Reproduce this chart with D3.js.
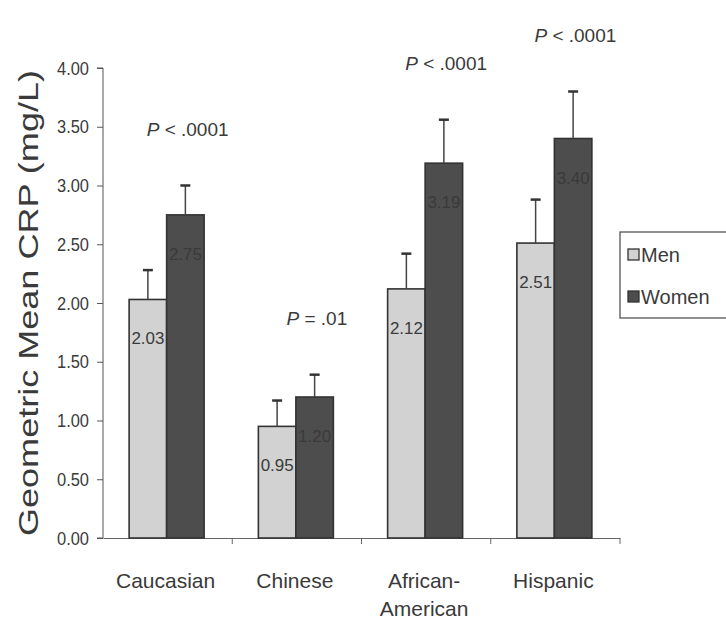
<!DOCTYPE html>
<html><head><meta charset="utf-8">
<script src="https://cdn.jsdelivr.net/npm/d3@7"></script>
<style>
body{margin:0;background:#fff;}
svg{display:block;}
text{font-family:"Liberation Sans",Arial,sans-serif;fill:#3a3a3a;}
</style></head>
<body>
<script>
const categories = ["Caucasian", "Chinese", "African-American", "Hispanic"];
const categoryLines = [["Caucasian"], ["Chinese"], ["African-", "American"], ["Hispanic"]];
const seriesNames = ["Men", "Women"];
const men = [2.03, 0.95, 2.12, 2.51];
const women = [2.75, 1.20, 3.19, 3.40];
const menUpper = [2.28, 1.17, 2.42, 2.88];
const womenUpper = [3.00, 1.39, 3.56, 3.80];
const pOps = ["<", "=", "<", "<"];
const pValues = [".0001", ".01", ".0001", ".0001"];
const yTicks = [0, 0.5, 1, 1.5, 2, 2.5, 3, 3.5, 4];

const W = 726, H = 626;
const m = {left:103, right:106, top:68, bottom:88};
const svg = d3.select("body").append("svg").attr("width", W).attr("height", H);

const x = d3.scaleBand().domain(categories).range([m.left, W - m.right]).paddingInner(0).paddingOuter(0);
const y = d3.scaleLinear().domain([0, 4]).range([H - m.bottom, m.top]);
const barW = 37.5;
const xs = d3.scaleBand().domain(seriesNames).range([0, barW*2]);
const colors = {Men:"#d2d2d2", Women:"#4d4d4d"};

const rows = categories.map((c,i)=>({c, i, vals:[
  {s:"Men", v:men[i], up:menUpper[i]},
  {s:"Women", v:women[i], up:womenUpper[i]}]}));

// y axis
const yAxis = svg.append("g").attr("transform",`translate(${m.left},0)`)
  .call(d3.axisLeft(y).tickValues(yTicks).tickFormat(d3.format(".2f")).tickSize(6).tickPadding(8));
yAxis.select(".domain").attr("stroke","#555").attr("d",`M-6,${y(4)}H0V${y(0)}H-6`);
yAxis.selectAll(".tick line").attr("stroke","#555");
yAxis.selectAll(".tick text").style("font-size","19px").attr("fill","#444")
  .attr("textLength",32).attr("lengthAdjust","spacingAndGlyphs");

// x axis
const xAxis = svg.append("g").attr("transform",`translate(0,${y(0)})`)
  .call(d3.axisBottom(x).tickSize(0).tickFormat(""));
xAxis.select(".domain").attr("stroke","#666");
xAxis.selectAll(".bnd").data(categories.slice(1).concat([null])).join("line")
  .attr("x1",(d,i)=> d ? x(d) : x.range()[1]).attr("x2",(d,i)=> d ? x(d) : x.range()[1])
  .attr("y1",0).attr("y2",6).attr("stroke","#666");

// category labels
const cl = svg.append("g").selectAll("text").data(rows).join("text")
  .attr("x", d=>x(d.c)+x.bandwidth()/2 - 2).attr("y", y(0)+50)
  .attr("text-anchor","middle").style("font-size","21px").attr("fill","#444");
cl.each(function(d){
  const t = d3.select(this);
  categoryLines[d.i].forEach((ln,k)=>t.append("tspan").attr("x", x(d.c)+x.bandwidth()/2 - 2).attr("dy", k?28:0).text(ln));
});

// bars
const grp = svg.append("g").selectAll("g").data(rows).join("g")
  .attr("transform", d=>`translate(${x(d.c)+x.bandwidth()/2 - barW - 1},0)`);
grp.selectAll("rect").data(d=>d.vals).join("rect")
  .attr("x", d=>xs(d.s)).attr("width", xs.bandwidth())
  .attr("y", d=>y(d.v)).attr("height", d=>y(0)-y(d.v))
  .attr("fill", d=>colors[d.s]).attr("stroke","#333").attr("stroke-width",1.6);

// error bars
const eb = grp.selectAll("g.eb").data(d=>d.vals).join("g").attr("class","eb");
eb.append("line").attr("x1",d=>xs(d.s)+xs.bandwidth()/2).attr("x2",d=>xs(d.s)+xs.bandwidth()/2)
  .attr("y1",d=>y(d.v)).attr("y2",d=>y(d.up)).attr("stroke","#444").attr("stroke-width",1.5);
eb.append("line").attr("x1",d=>xs(d.s)+xs.bandwidth()/2-5).attr("x2",d=>xs(d.s)+xs.bandwidth()/2+5)
  .attr("y1",d=>y(d.up)).attr("y2",d=>y(d.up)).attr("stroke","#333").attr("stroke-width",2.5);

// value labels
grp.selectAll("text.val").data(d=>d.vals).join("text").attr("class","val")
  .attr("x", d=>xs(d.s)+xs.bandwidth()/2).attr("y", d=>y(d.v)+45)
  .attr("text-anchor","middle").style("font-size","17px")
  .attr("fill", d=> d.s==="Men" ? "#2a2a2a" : "#3a3a3a")
  .attr("textLength",33).attr("lengthAdjust","spacingAndGlyphs")
  .text(d=>d3.format(".2f")(d.v));

// P labels
const pl = svg.append("g").selectAll("text").data(rows).join("text")
  .attr("x", d=>x(d.c)+x.bandwidth()/2 + 20)
  .attr("y", d=>y(womenUpper[d.i]) - 50)
  .attr("text-anchor","middle").style("font-size","19px").attr("fill","#444");
pl.append("tspan").style("font-style","italic").text("P");
pl.append("tspan").text(d=>" " + pOps[d.i] + " " + pValues[d.i]);

// y title
svg.append("text").attr("transform",`translate(38,${(y(0)+y(4))/2}) rotate(-90)`)
  .attr("text-anchor","middle").style("font-size","28px").attr("fill","#555")
  .attr("textLength",466).attr("lengthAdjust","spacingAndGlyphs")
  .text("Geometric Mean CRP (mg/L)");

// legend
const lg = svg.append("g").attr("transform","translate(620,232)");
lg.append("rect").attr("width",112).attr("height",86).attr("fill","#fff").attr("stroke","#555").attr("stroke-width",1.3);
const li = lg.selectAll("g").data(seriesNames).join("g").attr("transform",(d,i)=>`translate(8,${24+i*42})`);
li.append("rect").attr("x",0).attr("y",-7).attr("width",11).attr("height",11)
  .attr("fill",d=>colors[d]).attr("stroke","#333").attr("stroke-width",1.3);
li.append("text").attr("x",13).attr("y",6).style("font-size","20px").attr("fill","#444").text(d=>d);
</script>
</body></html>
